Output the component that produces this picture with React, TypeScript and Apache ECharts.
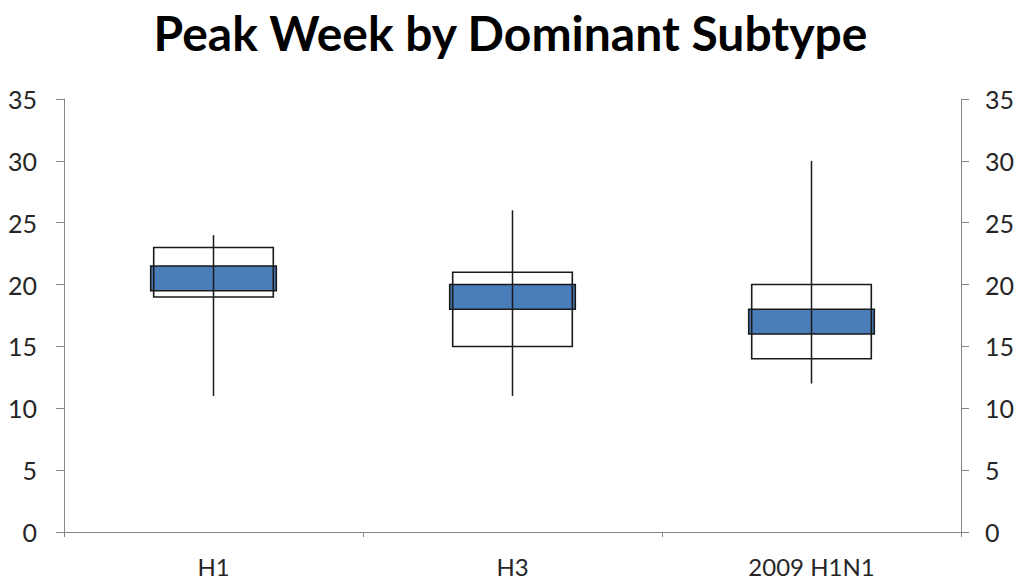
import React, { useEffect, useRef } from "react";
import * as echarts from "echarts";

const categories = ["H1", "H3", "2009 H1N1"];
const whiskerMin = [11, 11, 12];
const whiskerMax = [24, 26, 30];
const boxLow = [19, 15, 14];
const boxHigh = [23, 21, 20];
const blueLow = [19.5, 18, 16];
const blueHigh = [21.5, 20, 18];
const yTicks = { min: 0, max: 35, interval: 5 };

const FONT = "Lato";

export default function App() {
  const ref = useRef<HTMLDivElement>(null);
  useEffect(() => {
    if (!ref.current) return;
    const chart = echarts.init(ref.current, undefined, { renderer: "svg" });
    const data = categories.map((_, i) => [
      i,
      whiskerMin[i],
      boxLow[i],
      boxHigh[i],
      whiskerMax[i],
      blueLow[i],
      blueHigh[i],
    ]);
    const axisColor = "#868686";
    const labelColor = "#262626";
    const yAxisCommon = {
      type: "value",
      min: yTicks.min,
      max: yTicks.max,
      interval: yTicks.interval,
      splitLine: { show: false },
      axisLine: { show: true, lineStyle: { color: axisColor, width: 1 } },
      axisTick: { show: true, length: 8, lineStyle: { color: axisColor } },
    };
    chart.setOption({
      animation: false,
      backgroundColor: "#fff",
      title: {
        text: "Peak Week by Dominant Subtype",
        left: "center",
        top: 3,
        textStyle: {
          fontFamily: FONT,
          fontWeight: "bold",
          fontSize: 48,
          color: "#000",
        },
      },
      grid: { left: 64, right: 60, top: 99, bottom: 54 },
      xAxis: {
        type: "category",
        data: categories,
        boundaryGap: true,
        axisLine: { show: true, lineStyle: { color: axisColor, width: 1 } },
        axisTick: { show: true, length: 5, lineStyle: { color: axisColor } },
        axisLabel: {
          fontFamily: FONT,
          fontSize: 24,
          color: labelColor,
          margin: 22,
        },
        splitLine: { show: false },
      },
      yAxis: [
        {
          ...yAxisCommon,
          position: "left",
          axisLabel: { fontFamily: FONT, fontSize: 25, color: labelColor, margin: 27 },
        },
        {
          ...yAxisCommon,
          position: "right",
          axisLabel: { fontFamily: FONT, fontSize: 25, color: labelColor, margin: 24 },
        },
      ],
      series: [
        {
          type: "custom",
          xAxisIndex: 0,
          yAxisIndex: 0,
          data,
          encode: { x: 0, y: [1, 2, 3, 4, 5, 6] },
          renderItem: (params: any, api: any) => {
            const idx = api.value(0);
            const band = api.size([1, 0])[0];
            const center = api.coord([idx, 0])[0];
            const pMin = api.coord([idx, api.value(1)]);
            const pLow = api.coord([idx, api.value(2)]);
            const pHigh = api.coord([idx, api.value(3)]);
            const pMax = api.coord([idx, api.value(4)]);
            const bLow = api.coord([idx, api.value(5)]);
            const bHigh = api.coord([idx, api.value(6)]);
            const boxW = band * 0.4;
            const blueW = band * 0.42;
            return {
              type: "group",
              children: [
                {
                  type: "rect",
                  shape: {
                    x: center - blueW / 2,
                    y: bHigh[1],
                    width: blueW,
                    height: bLow[1] - bHigh[1],
                  },
                  style: { fill: "#4a7ebb", stroke: "#1a1a1a", lineWidth: 1.6 },
                },
                {
                  type: "rect",
                  shape: {
                    x: center - boxW / 2,
                    y: pHigh[1],
                    width: boxW,
                    height: pLow[1] - pHigh[1],
                  },
                  style: { fill: "none", stroke: "#1a1a1a", lineWidth: 1.6 },
                },
                {
                  type: "line",
                  shape: { x1: center, y1: pMax[1], x2: center, y2: pMin[1] },
                  style: { stroke: "#1a1a1a", lineWidth: 1.5 },
                },
              ],
            };
          },
        },
      ],
    });
    return () => chart.dispose();
  }, []);
  return (
    <div
      ref={ref}
      style={{ position: "fixed", left: 0, top: 0, width: 1021, height: 586 }}
    />
  );
}
